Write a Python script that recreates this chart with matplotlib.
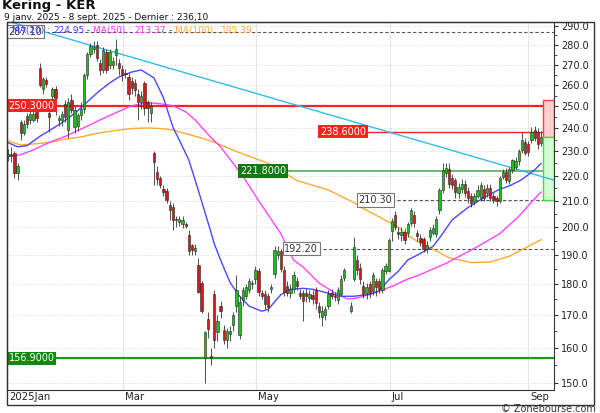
import math
import matplotlib
matplotlib.use("Agg")
import matplotlib.pyplot as plt
from matplotlib.patches import Rectangle
from matplotlib.ticker import FixedLocator, FixedFormatter, NullFormatter

nan = float('nan')

# ---------------- data ----------------
# one entry per session, 9 Jan 2025 -> 8 Sep 2025 (nan = session with no candle drawn)
opens = [228, 229, 229.5, 221, 243, 238, 245.5, 243.8, 244, 248,
         268.5, 258, 262.5, 247, 255, 258, 244, 244, 251, 239.5,
         253, 240.5, 241, 246, 249, 265, 275.6, 278, 280, 271,
         267.5, 276.5, 270, 270, 275, 271, 268, 266, 264, 262,
         261, 256, 252, 261, 252, 247, 229.3, 221.6, 219, 214.7,
         214, 208.3, 207.5, 203, 202, 201, 201.3, 197, 193.4, 191.2,
         186.3, 180.4, 157, 168.7, 157.5, 176.7, 164.8, 173, 165.4, 162.3,
         164, 167, 173, 163.8, 174.8, 176, 178, 180, 181.7, 184.3,
         177, 176.7, 176, 178.5, 183.5, 190, 191.2, 184.6, 179.5, 177,
         178.4, 181, 177, 177, 177, 175.5, 176.5, 178, 173, 169.3,
         170, 173, 177, 176.2, 174.8, 176.7, 182.2, nan, 171.2, 181.7, 188.2,
         185.5, 179.4, 177, 180, 177.7, 181, 181, 178, 184.5, 184.5,
         198.4, 204.6, 198.3, 197, 198.3, 198, 201.5, 204.5, 197.8, 196,
         195.6, 192, 196.4, 198, 197.3, 206.4, 214.2, 221, 222.7, 219, 218,
         213, 214.5, 216.6, 214, 212, 209.5, 212, 211, 214.5, 213,
         215, 212, 211, 210, 219.5, 221.5, 217.8, 222.3, 223.5, 225.8,
         230.7, 234, 233, 234.9, 239.3, 238.5, 233.6]
highs = [231, 232, 230, 225, 244, 244, 247, 248, 248, 250,
         271, 264, 264, 249, 259, 259.5, 246, 248, 253, 254,
         256, 250, 247, 252, 266, 276.5, 281, 282, 282, 273,
         279, 278, 278, 274, 283, 273, 270, 268, 266, 264,
         263, 258, 257, 262, 253, 252, 230, 224, 220, 216,
         215, 210, 209, 204, 204, 204, 202, 199, 194, 194,
         188.8, 181, 165, 171, 160, 178, 170, 174.5, 167, 166,
         166.5, 171, 183, 176, 179, 180, 182, 181.5, 186, 185.5,
         178, 178, 177, 180, 193, 193, 192, 186, 181, 180,
         184.5, 182.5, 178.5, 178, 178.5, 178, 178, 179, 174, 173,
         173, 178, 178.5, 177.5, 179, 183, 185.5, nan, 174, 196.4, 190,
         187, 181, 180.5, 181, 184, 182, 182, 185.5, 187, 196,
         203.5, 206, 200, 200, 199.5, 202, 207, 206, 199, 197.5,
         196.5, 195, 200, 201, 204, 215, 225, 225, 225, 220.5, 219,
         217, 218.5, 218, 215.5, 213, 213, 216, 217.5, 216, 216.5,
         216.5, 213, 212, 220, 222.5, 223, 223.5, 227, 227.5, 231,
         238.5, 236, 234.5, 240.5, 241, 240, 239]
lows = [226, 225.5, 219, 218, 235, 237, 240, 242, 243, 243,
        259, 256, 259, 238.5, 252, 246, 241, 241, 243, 236,
        247, 238, 239, 244, 247, 263, 274, 276, 272, 265,
        266, 266, 268, 268, 270, 265, 262, 263.5, 253, 256,
        255, 244, 249, 246, 243, 243, 216, 216, 215, 212,
        209, 202.7, 198.9, 200, 200.5, 199.5, 199.5, 190, 190, 190,
        177, 170.5, 150, 163, 155, 160, 162, 169, 161, 160,
        162, 165, 171, 162.5, 173, 175, 177, 178.5, 180, 176,
        175, 172, 171, 177, 182, 188.5, 184, 176, 176, 175.5,
        177, 178, 175, 168, 174, 174, 173.5, 172, 169, 166.5,
        168.5, 172, 175, 174.5, 173.5, 176, 181, nan, 170.5, 181, 183,
        180, 175.5, 175, 175.5, 176.5, 176, 177, 177, 183.5, 184,
        195, 199, 195.5, 195, 194, 196.5, 200.5, 200, 195, 193,
        191, 190.5, 195, 197, 196.5, 205, 213, 219.5, 215, 214.5, 211,
        211, 213, 211.5, 209, 207.5, 208.5, 211, 210, 210, 211.5,
        210, 209, 208, 209, 218.5, 217, 216.5, 221, 222.5, 224.5,
        229.5, 228.5, 228, 233.5, 234.5, 231, 232.5]
closes = [229, 228, 221, 224, 238, 242, 242, 246.7, 246.5, 244.5,
          260, 263, 260.5, 245, 258, 254, 244.5, 246.5, 245, 252,
          248.5, 248.3, 246, 249, 265, 275.6, 279.5, 279, 273.5, 267.5,
          277.6, 267.5, 276.5, 272, 278, 268.5, 265, 265.5, 256, 258.5,
          257.5, 252, 255, 249.3, 249.3, 250, 225.4, 218.4, 216, 213.6,
          210.3, 206.4, 202.7, 202.5, 203, 202.7, 200.3, 191.5, 191.7, 192.5,
          177.5, 171.2, 164.7, 165.8, 157, 162.3, 168.2, 171.2, 162.3, 165,
          165, 170, 178, 174.2, 178, 179, 181, 180.3, 184.8, 177.4,
          176, 173.4, 172.5, 179, 191.7, 191.5, 185, 177.5, 177, 178.5,
          183, 179.5, 176.2, 174.5, 176, 176.8, 175, 173.8, 171, 171.3,
          171.8, 176.7, 176, 175.8, 178, 181.7, 184.6, nan, 173, 192.9, 184.8,
          181.7, 176.9, 179, 177, 183, 179, 178.5, 184.8, 186, 195.3,
          202.3, 200, 197.4, 198.3, 195.3, 201, 206.4, 201.5, 196.6, 194.5,
          192.2, 193.5, 198.9, 199.5, 202.9, 214.2, 222.3, 223, 216.6, 216.2, 213.5,
          215.5, 216.5, 213, 211, 209, 212, 214.2, 216, 211, 215,
          211, 210.5, 210, 219, 221.6, 218, 222.6, 226.4, 226, 230,
          234.9, 229.3, 229.8, 238.5, 235.7, 233, 236.1]

# moving averages (session index, value)
ma20_idx = [0, 3, 6, 10, 13, 18, 22, 26, 29, 32, 35, 39, 42, 46, 49, 52, 54, 57, 60, 64,
            65, 67, 70, 73, 76, 80, 82, 86, 89, 93, 96, 101, 105, 109, 114, 117, 120, 123,
            126, 129, 134, 137, 140, 145, 150, 153, 155, 158, 162, 166, 168]
ma20_val = [233.8, 232, 232.5, 236.5, 239, 243.5, 248, 253.5, 257.5, 261, 264, 266.4, 267.4,
            263.5, 254, 240.5, 234.9, 226.4, 214, 198, 194, 188.2, 180.5, 176, 172.8, 171.2,
            171.8, 176.5, 178.3, 178.6, 178.3, 177, 176, 176, 176.6, 177.8, 181.4, 184.3,
            188.2, 189.9, 193, 197.6, 202.7, 207.4, 211.2, 213.2, 214.5, 215.8, 218.4, 222.3,
            224.95]
ma50_idx = [0, 4, 8, 13, 18, 23, 29, 34, 39, 44, 48, 52, 56, 59, 64, 67, 74, 79, 86, 90,
            93, 98, 103, 107, 110, 114, 118, 122, 126, 129, 138, 146, 148, 155, 161, 165, 168]
ma50_val = [228, 228.6, 230.7, 233.9, 236.5, 239.7, 243.8, 247.1, 250.3, 251.8, 251.2, 250.3,
            247.5, 243.8, 236, 232, 219.8, 210, 197.6, 188.2, 185.8, 180.4, 177.1, 175.1,
            175.4, 176.6, 178, 179.7, 181.7, 182.8, 187, 191.7, 192.9, 197.6, 204, 209.5,
            213.37]
ma100_idx = [0, 4, 8, 13, 18, 23, 29, 34, 39, 44, 48, 52, 54, 61, 65, 72, 75, 82, 86, 91,
             101, 109, 112, 117, 123, 126, 129, 134, 139, 146, 152, 158, 164, 168]
ma100_val = [234.5, 232.8, 233.2, 233.9, 235.3, 236.3, 238.1, 239.1, 240, 240.2, 240, 239.3,
             238.5, 235.8, 234, 230, 228.5, 225, 222, 218, 214.2, 209.3, 207, 203.8, 200,
             197, 194.8, 192, 189, 187.3, 187.5, 189.5, 193, 195.39]

# downward trend line (session index, price)
trend_idx = [0, 172]
trend_val = [292.6, 218.2]

# horizontal levels
level_dash_top = 287.10
level_res = 250.30
level_res2 = 238.60
level_sup1 = 221.80
level_sup2 = 210.30
level_sup3 = 192.20
level_low = 156.90
target_high = 253.0
last_price = 236.10

month_pos = [36.3, 78.2, 120.4, 163.9]
month_lab = ["Mar", "May", "Jul", "Sep"]
yticks = [150, 160, 170, 180, 190, 200, 210, 220, 230, 240, 250, 260, 270, 280, 290]
yminor = [155, 165, 175, 185, 195, 205, 215, 225, 235, 245, 255, 265, 275, 285]

# ---------------- figure ----------------
W, H = 600, 413
plt.rcParams['font.family'] = ['DejaVu Sans']
fig = plt.figure(figsize=(W / 100, H / 100), dpi=100)

ax = fig.add_axes([7 / W, 1 - 390 / H, 547 / W, 368 / H])
ax.set_yscale('log')
XL = (-0.32, 172.1)
ax.set_xlim(*XL)
ax.set_ylim(148.0, 292.2)

# grid
for m in month_pos:
    ax.axvline(m, color='#e6e6e6', lw=0.8, zorder=0)
for t in yticks:
    ax.axhline(t, color='#dcdcdc', lw=0.6, ls=(0, (2, 2)), zorder=0)

# horizontal levels
ax.axhline(level_dash_top, color='#555555', lw=0.8, ls=(0, (3, 2)), zorder=2)
ax.axhline(level_res, color='#ff2020', lw=1.6, zorder=2)
ax.axhline(level_low, color='#1e9a1e', lw=1.6, zorder=2)
ax.plot([98.3, XL[1]], [level_res2, level_res2], color='#ff2020', lw=1.0, zorder=2)
ax.plot([73.1, XL[1]], [level_sup1, level_sup1], color='#5aaa5a', lw=1.2, zorder=2)
ax.plot([110.3, XL[1]], [level_sup2, level_sup2], color='#555555', lw=0.8, ls=(0, (3, 2)), zorder=2)
ax.plot([87.0, XL[1]], [level_sup3, level_sup3], color='#555555', lw=0.8, ls=(0, (3, 2)), zorder=2)

# target boxes at the right
bx = 168.6
ax.add_patch(Rectangle((bx, last_price), XL[1] - bx, target_high - last_price,
                       fc='#ffd0d0', ec='#ff4040', lw=1.0, zorder=2))
ax.add_patch(Rectangle((bx, level_sup2), XL[1] - bx, last_price - level_sup2,
                       fc='#d4ffd4', ec='#44dd44', lw=1.0, zorder=2))

# trend line and moving averages
ax.plot(trend_idx, trend_val, color='#33bbee', lw=1.0, zorder=3)
ax.plot(ma100_idx, ma100_val, color='#ffaa33', lw=1.0, zorder=3)
ax.plot(ma50_idx, ma50_val, color='#ff44ff', lw=1.0, zorder=3)
ax.plot(ma20_idx, ma20_val, color='#4848ff', lw=1.0, zorder=3)

# candles
idx = list(range(len(closes)))
ax.vlines(idx, lows, highs, color='#333333', lw=0.6, zorder=4)
for i in idx:
    o, c = opens[i], closes[i]
    if math.isnan(o):
        continue
    col = '#1fbf1f' if c >= o else '#d81818'
    ax.bar(i, c - o, bottom=o, width=0.72, color=col, edgecolor='#222222',
           linewidth=0.4, zorder=5)

# level labels
def level_label(x, y, s, fc, tc, ec='none'):
    ax.text(x, y, s, fontsize=7, color=tc, ha='left', va='center', zorder=7,
            bbox=dict(boxstyle='square,pad=0.18', fc=fc, ec=ec, lw=0.8))

level_label(0.2, level_dash_top, '287.10', 'white', '#333333', '#777777')
level_label(0.2, level_res, '250.3000', '#ff2020', 'white')
level_label(0.2, level_low, '156.9000', '#0f8a0f', 'white')
level_label(98.4, level_res2, '238.6000', '#ff2020', 'white')
level_label(73.2, level_sup1, '221.8000', '#0f7a0f', 'white')
level_label(110.4, level_sup2, '210.30', 'white', '#333333', '#777777')
level_label(87.1, level_sup3, '192.20', 'white', '#333333', '#777777')

# axes styling
for s in ax.spines.values():
    s.set_color('#333333')
    s.set_linewidth(0.8)
ax.yaxis.tick_right()
ax.yaxis.set_major_locator(FixedLocator(yticks))
ax.yaxis.set_major_formatter(FixedFormatter([f"{t:.1f}" for t in yticks]))
ax.yaxis.set_minor_locator(FixedLocator(yminor))
ax.yaxis.set_minor_formatter(NullFormatter())
ax.tick_params(axis='y', which='major', length=3, pad=2, labelsize=7, colors='#333333',
               labelcolor='#222222', direction='out')
ax.tick_params(axis='y', which='minor', length=2, colors='#333333', direction='out')
ax.set_xticks([])

# x labels
ax.text(0.3, -7 / 368, "2025Jan", transform=ax.get_xaxis_transform(), fontsize=7.3,
        ha='left', va='center', color='#222222')
for m, lab in zip(month_pos, month_lab):
    ax.text(m + 0.6, -7 / 368, lab, transform=ax.get_xaxis_transform(), fontsize=7.3,
            ha='left', va='center', color='#222222')

# outer frame
fig.patches.append(Rectangle((7 / W, 1 - 405 / H), 587 / W, 383 / H, transform=fig.transFigure,
                             fill=False, ec='#333333', lw=1.0, zorder=10))

# titles
fig.text(2 / W, 1 - 8.5 / H, "Kering - KER", fontsize=9.5, fontweight='bold',
         va='baseline', ha='left', color='#111111')
fig.text(4 / W, 1 - 19.5 / H, "9 janv. 2025 - 8 sept. 2025 - Dernier : 236,10",
         fontsize=6.5, va='baseline', ha='left', color='#111111')
fig.text(596 / W, 1 - 412.5 / H, "\u00a9 Zonebourse.com", fontsize=7, va='baseline',
         ha='right', color='#333333')

# coloured legend
fig.canvas.draw()
r = fig.canvas.get_renderer()
parts = [("MA(20) : ", '#3b3bff'), ("224.95", '#3b3bff'), (" - ", '#333333'),
         ("MA(50) : ", '#ff33ff'), ("213.37", '#ff33ff'), (" - ", '#333333'),
         ("MA(100) : ", '#ffaa33'), ("195.39", '#ffaa33')]
xp = 12.0
for s, c in parts:
    t = fig.text(xp / W, 1 - 33 / H, s, fontsize=6.5, color=c, va='baseline', ha='left', zorder=8)
    xp += t.get_window_extent(renderer=r).width

fig.savefig("out.png", dpi=100)
